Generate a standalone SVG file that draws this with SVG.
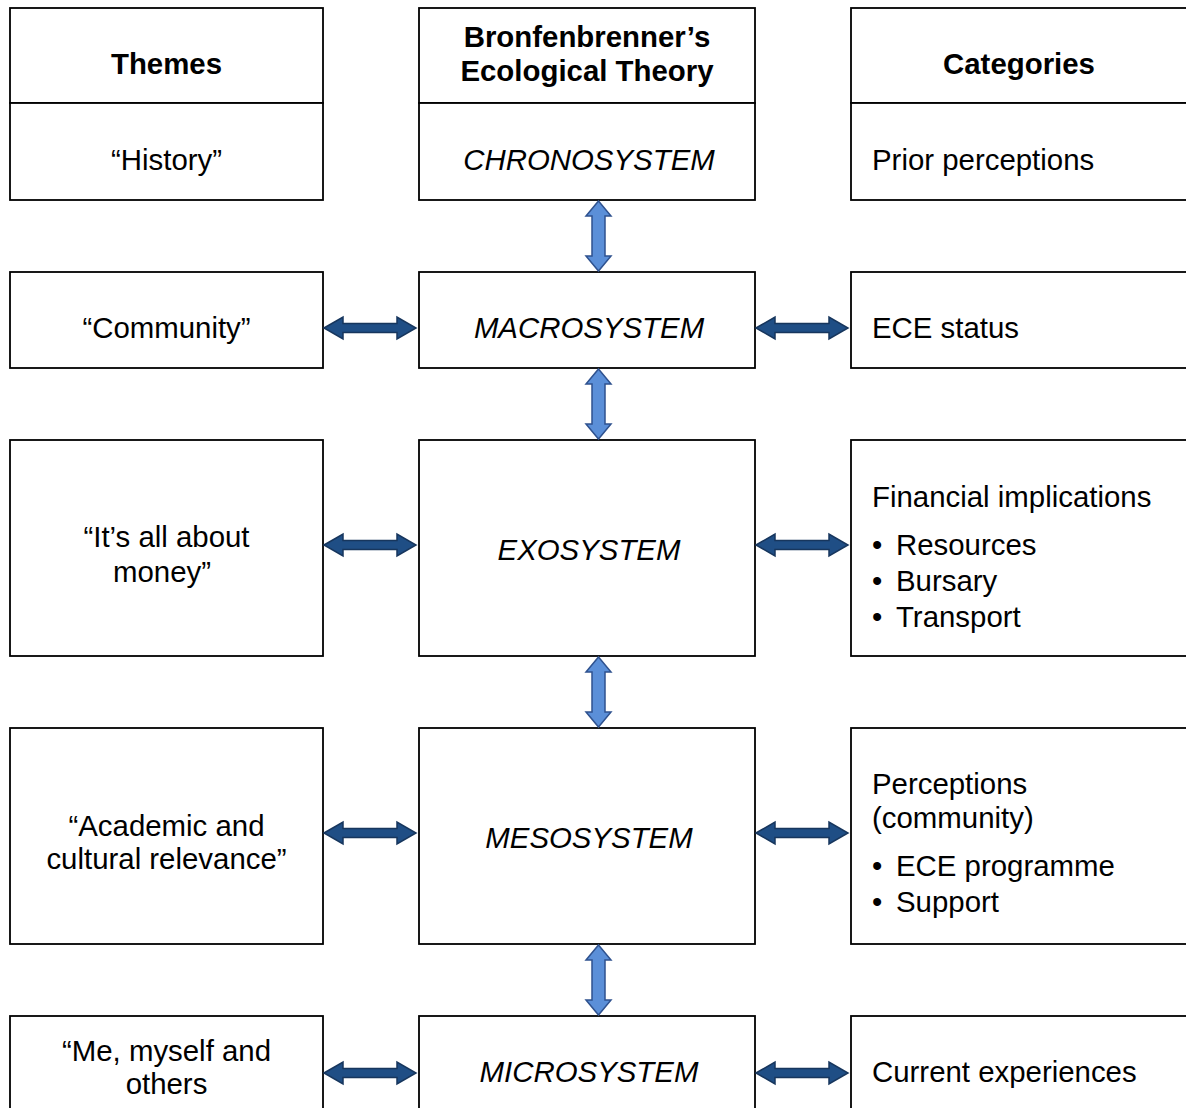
<svg xmlns="http://www.w3.org/2000/svg" width="1186" height="1108" viewBox="0 0 1186 1108">
<style>
.box{fill:#fff;stroke:#000;stroke-width:1.8}
text{font-family:"Liberation Sans",Arial,sans-serif;font-size:29.4px;fill:#000}
.c{text-anchor:middle}
.b{font-weight:bold}
.i{font-style:italic}
.va{fill:#5B8FD8;stroke:#2F528F;stroke-width:1.5}
.ha{fill:#1F4E85;stroke:#17365D;stroke-width:1.5}
</style>
<defs>
<polygon id="varr" points="0,-35 12.5,-20 6.5,-20 6.5,20 12.5,20 0,35 -12.5,20 -6.5,20 -6.5,-20 -12.5,-20"/>
<polygon id="harr" points="-46,0 -27,-11 -27,-4.5 27,-4.5 27,-11 46,0 27,11 27,4.5 -27,4.5 -27,11"/>
</defs>
<g id="themes-header"><rect class="box" x="10" y="8" width="313" height="95"/><text class="c b" x="166.5" y="73.5">Themes</text></g>
<g id="theory-header"><rect class="box" x="419" y="8" width="336" height="95"/><text class="c b" x="587" y="46.5">Bronfenbrenner’s</text><text class="c b" x="587" y="80.5">Ecological Theory</text></g>
<g id="categories-header"><rect class="box" x="851" y="8" width="345" height="95"/><text class="c b" x="1019" y="73.5">Categories</text></g>

<g id="history"><rect class="box" x="10" y="103" width="313" height="97"/><text class="c" x="166.5" y="169.5">“History”</text></g>
<g id="chronosystem"><rect class="box" x="419" y="103" width="336" height="97"/><text class="c i" x="589" y="169.5">CHRONOSYSTEM</text></g>
<g id="prior"><rect class="box" x="851" y="103" width="345" height="97"/><text x="872" y="169.5">Prior perceptions</text></g>

<g id="community"><rect class="box" x="10" y="272" width="313" height="96"/><text class="c" x="166.5" y="337.5">“Community”</text></g>
<g id="macrosystem"><rect class="box" x="419" y="272" width="336" height="96"/><text class="c i" x="589" y="337.5">MACROSYSTEM</text></g>
<g id="ece-status"><rect class="box" x="851" y="272" width="345" height="96"/><text x="872" y="337.5">ECE status</text></g>

<g id="money"><rect class="box" x="10" y="440" width="313" height="216"/><text class="c" x="166.5" y="546.5">“It’s all about</text><text class="c" x="162" y="581.5">money”</text></g>
<g id="exosystem"><rect class="box" x="419" y="440" width="336" height="216"/><text class="c i" x="589" y="559.5">EXOSYSTEM</text></g>
<g id="financial"><rect class="box" x="851" y="440" width="345" height="216"/><text x="872" y="506.5">Financial implications</text><text x="872" y="554.5">•</text><text x="896" y="554.5">Resources</text><text x="872" y="590.5">•</text><text x="896" y="590.5">Bursary</text><text x="872" y="626.5">•</text><text x="896" y="626.5">Transport</text></g>

<g id="academic"><rect class="box" x="10" y="728" width="313" height="216"/><text class="c" x="166.5" y="835.5">“Academic and</text><text class="c" x="166.5" y="868.5">cultural relevance”</text></g>
<g id="mesosystem"><rect class="box" x="419" y="728" width="336" height="216"/><text class="c i" x="589" y="847.5">MESOSYSTEM</text></g>
<g id="perceptions"><rect class="box" x="851" y="728" width="345" height="216"/><text x="872" y="793.5">Perceptions</text><text x="872" y="827.5">(community)</text><text x="872" y="875.5">•</text><text x="896" y="875.5">ECE programme</text><text x="872" y="911.5">•</text><text x="896" y="911.5">Support</text></g>

<g id="me"><rect class="box" x="10" y="1016" width="313" height="120"/><text class="c" x="166.5" y="1060.5">“Me, myself and</text><text class="c" x="166.5" y="1093.5">others</text></g>
<g id="microsystem"><rect class="box" x="419" y="1016" width="336" height="120"/><text class="c i" x="589" y="1081.5">MICROSYSTEM</text></g>
<g id="current"><rect class="box" x="851" y="1016" width="345" height="120"/><text x="872" y="1081.5">Current experiences</text></g>

<g id="connectors">
<use href="#varr" class="va" x="598.5" y="236"/>
<use href="#varr" class="va" x="598.5" y="404"/>
<use href="#varr" class="va" x="598.5" y="692"/>
<use href="#varr" class="va" x="598.5" y="980"/>
<use href="#harr" class="ha" x="370" y="328"/>
<use href="#harr" class="ha" x="802" y="328"/>
<use href="#harr" class="ha" x="370" y="545"/>
<use href="#harr" class="ha" x="802" y="545"/>
<use href="#harr" class="ha" x="370" y="833"/>
<use href="#harr" class="ha" x="802" y="833"/>
<use href="#harr" class="ha" x="370" y="1073"/>
<use href="#harr" class="ha" x="802" y="1073"/>
</g>
</svg>
